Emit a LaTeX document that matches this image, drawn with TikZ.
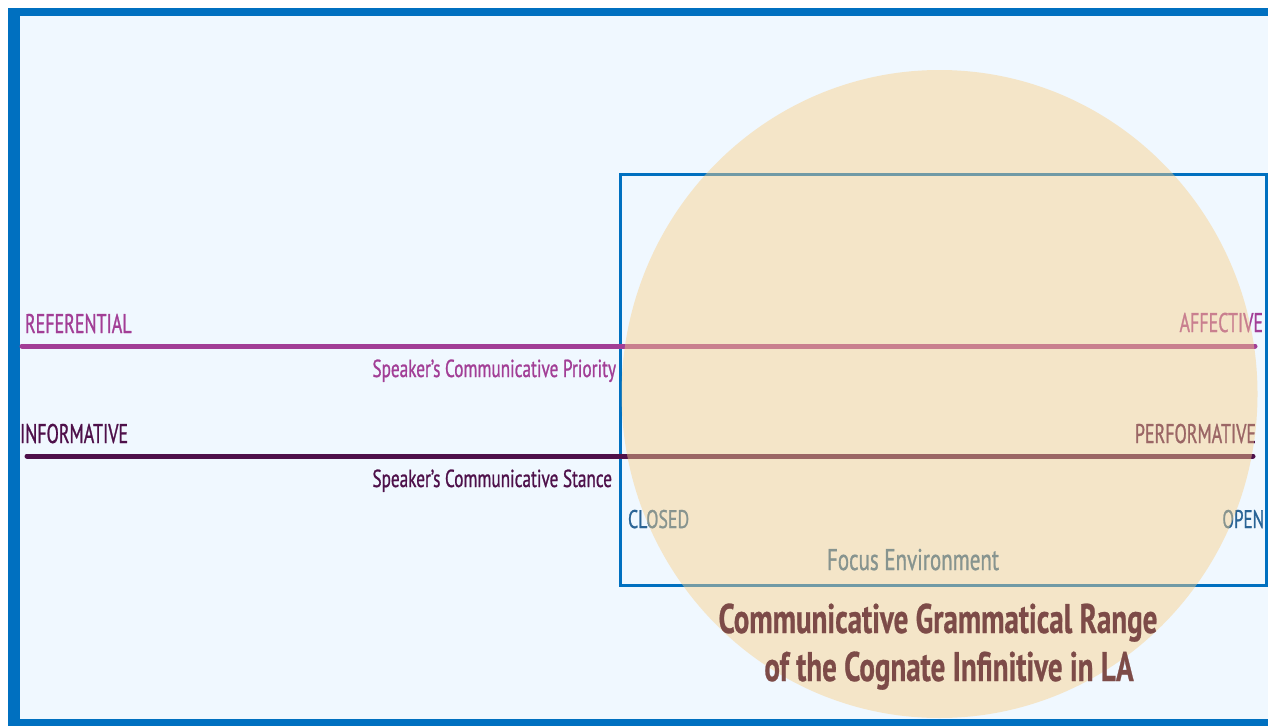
\documentclass[tikz,border=0pt]{standalone}
\usepackage{fontspec}
\setmainfont{PT Sans}[FakeStretch=0.7, FakeBold=0.9]
\newfontfamily\polefont{PT Sans}[FakeStretch=0.665, FakeBold=0.9]
\newfontfamily\titlefont{PT Sans Bold}[FakeStretch=0.7, FakeBold=0.6]
\definecolor{frameblue}{HTML}{0070C0}
\definecolor{panel}{HTML}{F0F8FF}
\definecolor{disc}{RGB}{249,207,135}
\definecolor{priority}{RGB}{162,62,150}
\definecolor{stance}{RGB}{78,16,74}
\definecolor{focus}{RGB}{42,100,150}
\definecolor{titlebrown}{RGB}{125,75,72}
\begin{document}
\begin{tikzpicture}[x=1pt,y=-1pt,
  lbl/.style={inner sep=0pt, outer sep=0pt},
  pole/.style={lbl, font=\polefont\fontsize{27}{30}\selectfont},
  axisname/.style={lbl, font=\fontsize{24.6}{27}\selectfont},
  axisline/.style={line width=5pt, line cap=round},
  focuslbl/.style={lbl, text=focus, font=\fontsize{25.5}{28}\selectfont},
  titleline/.style={lbl, text=titlebrown, font=\titlefont\fontsize{41.4}{45}\selectfont}]
\useasboundingbox (0,0) rectangle (1268,725);
\begin{scope}
  \clip (0,0) rectangle (1268,725);
  % page, frame and panel
  \fill[white] (0,0) rectangle (1268,725);
  \fill[frameblue] (8,8) rectangle (1300,740);
  \fill[panel] (20,16) rectangle (1288,719);
  % focus environment box
  \draw[frameblue, line width=3pt] (620,174) rectangle (1266,585);
  % axis end points
  \coordinate (refL) at (22,346);
  \coordinate (refR) at (1255,346);
  \coordinate (infL) at (27,456);
  \coordinate (infR) at (1253,456);
  \draw[axisline, priority] (refL) -- (refR);
  \draw[axisline, stance] (infL) -- (infR);
  % axis labels
  \node[pole, text=priority, anchor=base west] (referential) at (25,333) {REFERENTIAL};
  \node[pole, text=priority, anchor=base east] (affective) at (1263,332) {AFFECTIVE};
  \node[axisname, text=priority, anchor=base east] (prio) at (616,377) {Speaker’s Communicative Priority};
  \node[pole, text=stance, anchor=base west] (informative) at (20,443) {INFORMATIVE};
  \node[pole, text=stance, anchor=base east] (performative) at (1256,443) {PERFORMATIVE};
  \node[axisname, text=stance, anchor=base east] (stancelbl) at (612,487) {Speaker’s Communicative Stance};
  \node[focuslbl, anchor=base west] (closed) at (628,528) {CLOSED};
  \node[focuslbl, font=\polefont\fontsize{25.5}{28}\selectfont, anchor=base east] (open) at (1264,528) {OPEN};
  \node[focuslbl, font=\fontsize{30}{33}\selectfont, anchor=base] (focusenv) at (913,570) {Focus Environment};
  % range disc
  \fill[disc, opacity=0.45] (939.5,394) ellipse[x radius=318, y radius=324];
  % title
  \node[titleline, anchor=base] (title1) at (938,633) {Communicative Grammatical Range};
  \node[titleline, anchor=base] (title2) at (949,681) {of the Cognate Infinitive in LA};
\end{scope}
\end{tikzpicture}
\end{document}
